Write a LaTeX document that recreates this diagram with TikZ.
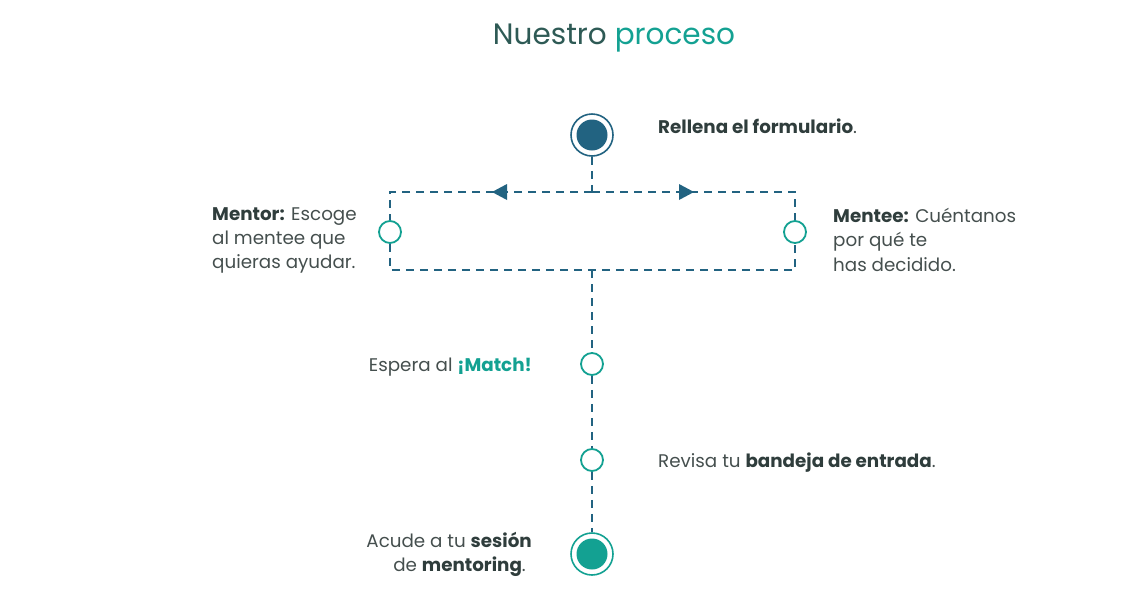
\documentclass[tikz,border=0pt]{standalone}
\usepackage{fontspec}
\setmainfont{Poppins}
\usetikzlibrary{calc}
\definecolor{navy}{HTML}{226381}
\definecolor{teal}{HTML}{13A192}
\definecolor{txt}{HTML}{454F4E}
\definecolor{txtb}{HTML}{2F3D3C}
\definecolor{ttl}{HTML}{2E5A55}
\tikzset{
  dashline/.style={navy, line width=1.8pt, dash pattern=on 8pt off 6pt},
  smallc/.style={circle, draw=teal, line width=1.8pt, fill=white, minimum size=22pt, inner sep=0pt},
  bigc/.style={circle, draw=#1, line width=1.6pt, fill=white, minimum size=42pt, inner sep=0pt,
     path picture={\fill[#1] (path picture bounding box.center) circle (15.5pt);}},
  lbl/.style={text=txt, font=\fontsize{18.3}{24.3}\selectfont, inner sep=0pt},
  tri/.style={fill=navy},
}
\begin{document}
\begin{tikzpicture}[x=1pt,y=-1pt]
\useasboundingbox (0,0) rectangle (1144,598);
% title
\node[anchor=base, font=\fontsize{29.5}{32}\selectfont, inner sep=0pt] (title) at (614,44) {\textcolor{ttl}{Nuestro} \textcolor{teal}{proceso}};
% nodes
\node[bigc=navy] (start) at (592,135) {};
\node[bigc=teal] (end) at (592,554) {};
\node[smallc] (L) at (390,232) {};
\node[smallc] (R) at (795,232) {};
\node[smallc] (M) at (592,364) {};
\node[smallc] (B) at (592,460) {};
\coordinate (J) at (592,192);
\coordinate (TL) at (390,192);
\coordinate (TR) at (795,192);
\coordinate (BL) at (390,270);
\coordinate (BR) at (795,270);
\coordinate (K) at (592,270);
% connectors
\draw[dashline] (start.south) -- (J);
\draw[dashline] (J) -- (TL) -- (L.north);
\draw[dashline] (J) -- (TR) -- (R.north);
\draw[dashline] (L.south) -- (BL) -- (BR) -- (R.south);
\draw[dashline] (K) -- (M.north);
\draw[dashline] (M.south) -- (B.north);
\draw[dashline] (B.south) -- (end.north);
% arrowheads
\fill[tri] (492,192) -- (507,184) -- (507,200) -- cycle;
\fill[tri] (694,192) -- (679,184) -- (679,200) -- cycle;
% labels
\node[lbl, anchor=base west] (t1) at (658,133) {\textcolor{txtb}{\textbf{Rellena el formulario}}.};
\node[lbl, anchor=base west] (t2a) at (212,220) {\textcolor{txtb}{\textbf{Mentor:}} Escoge};
\node[lbl, anchor=base west] (t2b) at (212,244) {al mentee que};
\node[lbl, anchor=base west] (t2c) at (212,268) {quieras ayudar.};
\node[lbl, anchor=base west] (t3a) at (833,222) {\textcolor{txtb}{\textbf{Mentee:}} Cuéntanos};
\node[lbl, anchor=base west] (t3b) at (833,246.5) {por qué te};
\node[lbl, anchor=base west] (t3c) at (833,271) {has decidido.};
\node[lbl, anchor=base east] (t4) at (532,371) {Espera al \textcolor{teal}{\textbf{¡Match!}}};
\node[lbl, anchor=base west] (t5) at (658,467) {Revisa tu \textcolor{txtb}{\textbf{bandeja de entrada}}.};
\node[lbl, anchor=base east] (t6a) at (532,547) {Acude a tu \textcolor{txtb}{\textbf{sesión}}};
\node[lbl, anchor=base east] (t6b) at (526,571) {de \textcolor{txtb}{\textbf{mentoring}}.};
\end{tikzpicture}
\end{document}
